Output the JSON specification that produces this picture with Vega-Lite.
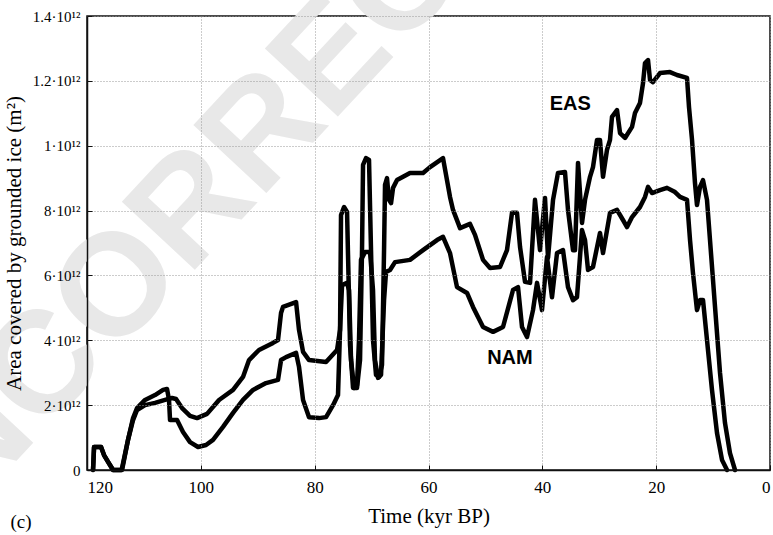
{
  "$schema": "https://vega.github.io/schema/vega-lite/v6.json",
  "width": 683,
  "height": 454,
  "autosize": {"type": "none"},
  "padding": {"left": 87, "top": 16, "right": 3, "bottom": 65},
  "background": "white",
  "config": {
    "view": {"stroke": "#111", "strokeWidth": 1.5}
  },
  "datasets": {
    "ice": [
      {"t":118.94,"a":0,"s":"EAS"},{"t":118.76,"a":0.071,"s":"EAS"},{"t":117.53,"a":0.071,"s":"EAS"},{"t":117.01,"a":0.046,"s":"EAS"},{"t":116.30,"a":0.025,"s":"EAS"},{"t":115.42,"a":0,"s":"EAS"},{"t":114.02,"a":0,"s":"EAS"},
      {"t":113.84,"a":0.006,"s":"EAS"},{"t":112.79,"a":0.093,"s":"EAS"},{"t":111.91,"a":0.154,"s":"EAS"},{"t":111.21,"a":0.185,"s":"EAS"},{"t":109.80,"a":0.200,"s":"EAS"},{"t":108.05,"a":0.207,"s":"EAS"},{"t":106.29,"a":0.216,"s":"EAS"},{"t":105.06,"a":0.222,"s":"EAS"},{"t":104.36,"a":0.219,"s":"EAS"},{"t":103.30,"a":0.191,"s":"EAS"},{"t":101.90,"a":0.167,"s":"EAS"},{"t":100.67,"a":0.160,"s":"EAS"},{"t":98.91,"a":0.173,"s":"EAS"},{"t":96.80,"a":0.216,"s":"EAS"},{"t":94.34,"a":0.247,"s":"EAS"},{"t":92.59,"a":0.287,"s":"EAS"},{"t":91.53,"a":0.339,"s":"EAS"},{"t":89.78,"a":0.370,"s":"EAS"},{"t":87.32,"a":0.392,"s":"EAS"},{"t":86.44,"a":0.401,"s":"EAS"},{"t":85.91,"a":0.484,"s":"EAS"},{"t":85.56,"a":0.503,"s":"EAS"},{"t":83.27,"a":0.518,"s":"EAS"},{"t":82.75,"a":0.432,"s":"EAS"},{"t":82.04,"a":0.364,"s":"EAS"},{"t":80.99,"a":0.339,"s":"EAS"},{"t":78.00,"a":0.333,"s":"EAS"},{"t":76.07,"a":0.370,"s":"EAS"},{"t":75.54,"a":0.432,"s":"EAS"},{"t":75.37,"a":0.786,"s":"EAS"},{"t":74.84,"a":0.811,"s":"EAS"},{"t":74.31,"a":0.796,"s":"EAS"},{"t":73.96,"a":0.524,"s":"EAS"},{"t":73.79,"a":0.385,"s":"EAS"},{"t":73.26,"a":0.253,"s":"EAS"},{"t":72.56,"a":0.253,"s":"EAS"},{"t":72.03,"a":0.339,"s":"EAS"},{"t":71.68,"a":0.678,"s":"EAS"},{"t":71.50,"a":0.941,"s":"EAS"},{"t":70.98,"a":0.962,"s":"EAS"},{"t":70.45,"a":0.956,"s":"EAS"},{"t":70.10,"a":0.678,"s":"EAS"},{"t":69.75,"a":0.401,"s":"EAS"},{"t":69.22,"a":0.293,"s":"EAS"},{"t":68.69,"a":0.287,"s":"EAS"},{"t":68.17,"a":0.324,"s":"EAS"},{"t":67.81,"a":0.678,"s":"EAS"},{"t":67.64,"a":0.879,"s":"EAS"},{"t":67.29,"a":0.900,"s":"EAS"},{"t":66.94,"a":0.833,"s":"EAS"},{"t":66.58,"a":0.823,"s":"EAS"},{"t":66.23,"a":0.870,"s":"EAS"},{"t":65.53,"a":0.894,"s":"EAS"},{"t":63.25,"a":0.916,"s":"EAS"},{"t":60.96,"a":0.916,"s":"EAS"},{"t":59.73,"a":0.934,"s":"EAS"},{"t":57.45,"a":0.962,"s":"EAS"},{"t":56.22,"a":0.842,"s":"EAS"},{"t":55.69,"a":0.802,"s":"EAS"},{"t":54.46,"a":0.746,"s":"EAS"},{"t":52.71,"a":0.759,"s":"EAS"},{"t":51.83,"a":0.725,"s":"EAS"},{"t":50.42,"a":0.648,"s":"EAS"},{"t":49.19,"a":0.623,"s":"EAS"},{"t":47.43,"a":0.626,"s":"EAS"},{"t":46.21,"a":0.678,"s":"EAS"},{"t":45.33,"a":0.793,"s":"EAS"},{"t":44.45,"a":0.793,"s":"EAS"},{"t":43.92,"a":0.688,"s":"EAS"},{"t":43.04,"a":0.580,"s":"EAS"},{"t":42.16,"a":0.577,"s":"EAS"},{"t":41.29,"a":0.833,"s":"EAS"},{"t":40.41,"a":0.678,"s":"EAS"},{"t":39.53,"a":0.839,"s":"EAS"},{"t":39.00,"a":0.654,"s":"EAS"},{"t":38.12,"a":0.833,"s":"EAS"},{"t":37.25,"a":0.916,"s":"EAS"},{"t":36.02,"a":0.919,"s":"EAS"},{"t":35.49,"a":0.802,"s":"EAS"},{"t":34.61,"a":0.678,"s":"EAS"},{"t":34.26,"a":0.678,"s":"EAS"},{"t":33.73,"a":0.947,"s":"EAS"},{"t":33.03,"a":0.762,"s":"EAS"},{"t":32.50,"a":0.833,"s":"EAS"},{"t":31.62,"a":0.904,"s":"EAS"},{"t":31.10,"a":0.934,"s":"EAS"},{"t":30.39,"a":1.018,"s":"EAS"},{"t":29.87,"a":1.018,"s":"EAS"},{"t":29.34,"a":0.904,"s":"EAS"},{"t":28.64,"a":0.987,"s":"EAS"},{"t":28.11,"a":1.018,"s":"EAS"},{"t":27.76,"a":1.089,"s":"EAS"},{"t":26.88,"a":1.110,"s":"EAS"},{"t":26.35,"a":1.039,"s":"EAS"},{"t":25.47,"a":1.024,"s":"EAS"},{"t":24.24,"a":1.058,"s":"EAS"},{"t":23.72,"a":1.101,"s":"EAS"},{"t":22.84,"a":1.132,"s":"EAS"},{"t":22.31,"a":1.193,"s":"EAS"},{"t":21.96,"a":1.255,"s":"EAS"},{"t":21.43,"a":1.264,"s":"EAS"},{"t":21.08,"a":1.203,"s":"EAS"},{"t":20.56,"a":1.196,"s":"EAS"},{"t":19.33,"a":1.224,"s":"EAS"},{"t":17.57,"a":1.227,"s":"EAS"},{"t":16.34,"a":1.218,"s":"EAS"},{"t":14.58,"a":1.209,"s":"EAS"},{"t":14.23,"a":1.119,"s":"EAS"},{"t":13.70,"a":1.018,"s":"EAS"},{"t":13.18,"a":0.885,"s":"EAS"},{"t":12.83,"a":0.817,"s":"EAS"},{"t":12.30,"a":0.873,"s":"EAS"},{"t":11.77,"a":0.894,"s":"EAS"},{"t":11.07,"a":0.833,"s":"EAS"},{"t":10.54,"a":0.709,"s":"EAS"},{"t":9.66,"a":0.503,"s":"EAS"},{"t":8.78,"a":0.299,"s":"EAS"},{"t":7.91,"a":0.145,"s":"EAS"},{"t":7.03,"a":0.052,"s":"EAS"},{"t":6.15,"a":0,"s":"EAS"},

      {"t":118.94,"a":0,"s":"NAM"},{"t":118.76,"a":0.071,"s":"NAM"},{"t":117.53,"a":0.071,"s":"NAM"},{"t":117.01,"a":0.046,"s":"NAM"},{"t":116.30,"a":0.025,"s":"NAM"},{"t":115.42,"a":0,"s":"NAM"},{"t":114.02,"a":0,"s":"NAM"},
      {"t":113.84,"a":0,"s":"NAM"},{"t":112.79,"a":0.093,"s":"NAM"},{"t":111.91,"a":0.160,"s":"NAM"},{"t":111.21,"a":0.191,"s":"NAM"},{"t":109.80,"a":0.216,"s":"NAM"},{"t":108.05,"a":0.231,"s":"NAM"},{"t":106.64,"a":0.247,"s":"NAM"},{"t":105.94,"a":0.250,"s":"NAM"},{"t":105.59,"a":0.216,"s":"NAM"},{"t":105.41,"a":0.154,"s":"NAM"},{"t":104.18,"a":0.154,"s":"NAM"},{"t":103.13,"a":0.117,"s":"NAM"},{"t":101.90,"a":0.086,"s":"NAM"},{"t":100.49,"a":0.071,"s":"NAM"},{"t":99.09,"a":0.077,"s":"NAM"},{"t":97.86,"a":0.093,"s":"NAM"},{"t":96.10,"a":0.133,"s":"NAM"},{"t":94.34,"a":0.176,"s":"NAM"},{"t":92.59,"a":0.216,"s":"NAM"},{"t":90.83,"a":0.247,"s":"NAM"},{"t":88.55,"a":0.268,"s":"NAM"},{"t":86.44,"a":0.278,"s":"NAM"},{"t":85.91,"a":0.339,"s":"NAM"},{"t":85.03,"a":0.348,"s":"NAM"},{"t":83.27,"a":0.361,"s":"NAM"},{"t":82.75,"a":0.318,"s":"NAM"},{"t":82.04,"a":0.216,"s":"NAM"},{"t":80.99,"a":0.163,"s":"NAM"},{"t":79.23,"a":0.160,"s":"NAM"},{"t":78.00,"a":0.163,"s":"NAM"},{"t":76.77,"a":0.200,"s":"NAM"},{"t":75.90,"a":0.231,"s":"NAM"},{"t":75.54,"a":0.432,"s":"NAM"},{"t":75.19,"a":0.570,"s":"NAM"},{"t":74.31,"a":0.577,"s":"NAM"},{"t":73.96,"a":0.555,"s":"NAM"},{"t":73.61,"a":0.339,"s":"NAM"},{"t":73.08,"a":0.253,"s":"NAM"},{"t":72.56,"a":0.262,"s":"NAM"},{"t":72.21,"a":0.401,"s":"NAM"},{"t":71.86,"a":0.648,"s":"NAM"},{"t":71.15,"a":0.672,"s":"NAM"},{"t":70.27,"a":0.672,"s":"NAM"},{"t":69.75,"a":0.555,"s":"NAM"},{"t":69.40,"a":0.339,"s":"NAM"},{"t":68.87,"a":0.284,"s":"NAM"},{"t":68.34,"a":0.293,"s":"NAM"},{"t":67.81,"a":0.524,"s":"NAM"},{"t":67.46,"a":0.611,"s":"NAM"},{"t":66.76,"a":0.617,"s":"NAM"},{"t":65.88,"a":0.641,"s":"NAM"},{"t":63.25,"a":0.648,"s":"NAM"},{"t":60.96,"a":0.678,"s":"NAM"},{"t":58.50,"a":0.709,"s":"NAM"},{"t":57.45,"a":0.719,"s":"NAM"},{"t":56.22,"a":0.669,"s":"NAM"},{"t":54.99,"a":0.564,"s":"NAM"},{"t":53.23,"a":0.546,"s":"NAM"},{"t":52.18,"a":0.503,"s":"NAM"},{"t":50.42,"a":0.441,"s":"NAM"},{"t":48.66,"a":0.426,"s":"NAM"},{"t":46.91,"a":0.441,"s":"NAM"},{"t":45.15,"a":0.555,"s":"NAM"},{"t":44.27,"a":0.564,"s":"NAM"},{"t":43.57,"a":0.441,"s":"NAM"},{"t":42.69,"a":0.410,"s":"NAM"},{"t":41.64,"a":0.493,"s":"NAM"},{"t":40.93,"a":0.577,"s":"NAM"},{"t":40.06,"a":0.493,"s":"NAM"},{"t":39.18,"a":0.657,"s":"NAM"},{"t":38.30,"a":0.533,"s":"NAM"},{"t":37.42,"a":0.669,"s":"NAM"},{"t":36.37,"a":0.678,"s":"NAM"},{"t":35.49,"a":0.564,"s":"NAM"},{"t":34.61,"a":0.524,"s":"NAM"},{"t":33.91,"a":0.533,"s":"NAM"},{"t":33.03,"a":0.740,"s":"NAM"},{"t":32.50,"a":0.709,"s":"NAM"},{"t":31.97,"a":0.617,"s":"NAM"},{"t":31.10,"a":0.626,"s":"NAM"},{"t":29.87,"a":0.731,"s":"NAM"},{"t":29.34,"a":0.669,"s":"NAM"},{"t":28.11,"a":0.793,"s":"NAM"},{"t":26.88,"a":0.802,"s":"NAM"},{"t":25.83,"a":0.771,"s":"NAM"},{"t":25.12,"a":0.749,"s":"NAM"},{"t":24.24,"a":0.780,"s":"NAM"},{"t":22.84,"a":0.811,"s":"NAM"},{"t":21.96,"a":0.842,"s":"NAM"},{"t":21.43,"a":0.873,"s":"NAM"},{"t":20.73,"a":0.854,"s":"NAM"},{"t":19.33,"a":0.863,"s":"NAM"},{"t":18.10,"a":0.870,"s":"NAM"},{"t":16.69,"a":0.857,"s":"NAM"},{"t":15.81,"a":0.842,"s":"NAM"},{"t":14.58,"a":0.833,"s":"NAM"},{"t":14.05,"a":0.709,"s":"NAM"},{"t":13.53,"a":0.607,"s":"NAM"},{"t":12.83,"a":0.493,"s":"NAM"},{"t":12.30,"a":0.524,"s":"NAM"},{"t":11.77,"a":0.524,"s":"NAM"},{"t":11.07,"a":0.401,"s":"NAM"},{"t":10.19,"a":0.247,"s":"NAM"},{"t":9.31,"a":0.114,"s":"NAM"},{"t":8.43,"a":0.031,"s":"NAM"},{"t":7.55,"a":0,"s":"NAM"}
    ],
    "labels": [
      {"t":35.1,"a":1.129,"label":"EAS"},
      {"t":45.7,"a":0.345,"label":"NAM"}
    ],
    "notes": [
      {"t":131.6,"a":-0.16,"label":"(c)"}
    ],
    "mark": [
      {"t":159.0,"a":-0.274,"label":"UNCORRECTED PROOF"}
    ]
  },
  "layer": [
    {
      "data": {"name": "mark"},
      "mark": {"type": "text", "align": "left", "baseline": "middle", "angle": -47, "font": "Liberation Sans", "fontWeight": "bold", "fontSize": 145, "color": "#e8e8e8"},
      "encoding": {
        "x": {"field": "t", "type": "quantitative"},
        "y": {"field": "a", "type": "quantitative"},
        "text": {"field": "label"}
      }
    },
    {
      "data": {"name": "ice"},
      "mark": {"type": "line", "color": "black", "strokeWidth": 4.5, "strokeJoin": "round", "strokeCap": "round"},
      "encoding": {
        "x": {
          "field": "t", "type": "quantitative",
          "scale": {"domain": [0, 120], "reverse": true, "nice": false},
          "axis": {
            "zindex": 2,
            "values": [0, 20, 40, 60, 80, 100, 120],
            "title": "Time (kyr BP)",
            "titleFont": "Liberation Serif", "titleFontSize": 21, "titleFontWeight": "normal", "titleColor": "black", "titlePadding": 10,
            "labelFont": "Liberation Serif", "labelFontSize": 17, "labelColor": "black", "labelPadding": 14,
            "domainColor": "#111", "domainWidth": 1.5,
            "tickColor": "#111", "tickSize": -5,
            "grid": true, "gridColor": "#999", "gridDash": [1, 2], "gridWidth": 1
          }
        },
        "y": {
          "field": "a", "type": "quantitative",
          "scale": {"domain": [0, 1.4], "nice": false},
          "axis": {
            "zindex": 2,
            "values": [0, 0.2, 0.4, 0.6, 0.8, 1, 1.2, 1.4],
            "labelExpr": "datum.value == 0 ? '0' : (datum.value >= 0.999 ? format(datum.value, '.1~f') : format(datum.value * 10, '.0f')) + '·10¹²'",
            "title": "Area covered by grounded ice (m²)",
            "titleFont": "Liberation Serif", "titleFontSize": 21, "titleFontWeight": "normal", "titleColor": "black", "titlePadding": 8,
            "labelFont": "Liberation Serif", "labelFontSize": 15, "labelColor": "black", "labelPadding": 12,
            "domainColor": "#111", "domainWidth": 1.5,
            "tickColor": "#111", "tickSize": -5,
            "grid": true, "gridColor": "#999", "gridDash": [1, 2], "gridWidth": 1
          }
        },
        "detail": {"field": "s"}
      }
    },
    {
      "data": {"name": "labels"},
      "mark": {"type": "text", "font": "Liberation Sans", "fontWeight": "bold", "fontSize": 20, "color": "black"},
      "encoding": {
        "x": {"field": "t", "type": "quantitative"},
        "y": {"field": "a", "type": "quantitative"},
        "text": {"field": "label"}
      }
    },
    {
      "data": {"name": "notes"},
      "mark": {"type": "text", "font": "Liberation Serif", "fontSize": 19, "color": "black"},
      "encoding": {
        "x": {"field": "t", "type": "quantitative"},
        "y": {"field": "a", "type": "quantitative"},
        "text": {"field": "label"}
      }
    }
  ]
}
